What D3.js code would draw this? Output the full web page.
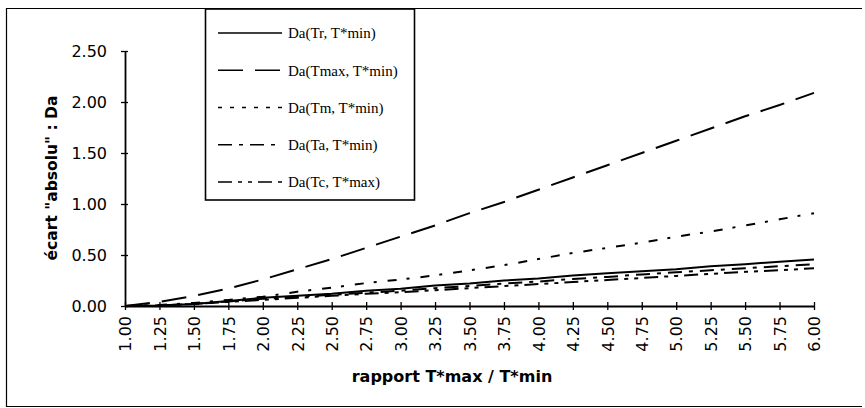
<!DOCTYPE html>
<html>
<head>
<meta charset="utf-8">
<script src="https://cdn.jsdelivr.net/npm/d3@7"></script>
<style>
  body { margin: 0; background: #fff; }
  svg { display: block; }
</style>
</head>
<body>
<svg id="chart"></svg>
<script>
// rapport T*max / T*min
const ratios = [1.00, 1.25, 1.50, 1.75, 2.00, 2.25, 2.50, 2.75, 3.00, 3.25, 3.50,
                3.75, 4.00, 4.25, 4.50, 4.75, 5.00, 5.25, 5.50, 5.75, 6.00];

const daTr   = [0, 0.005, 0.02, 0.05, 0.08, 0.10, 0.12, 0.15, 0.17, 0.20, 0.22,
                0.25, 0.27, 0.30, 0.32, 0.34, 0.36, 0.39, 0.41, 0.435, 0.455];
const daTmax = [0, 0.04, 0.10, 0.17, 0.26, 0.36, 0.46, 0.57, 0.68, 0.79, 0.91,
                1.02, 1.14, 1.26, 1.38, 1.50, 1.62, 1.74, 1.86, 1.97, 2.09];
const daTm   = [0, 0.01, 0.03, 0.06, 0.09, 0.14, 0.18, 0.225, 0.26, 0.30, 0.35,
                0.40, 0.46, 0.52, 0.57, 0.62, 0.68, 0.73, 0.79, 0.85, 0.91];
const daTa   = [0, 0.005, 0.02, 0.045, 0.07, 0.09, 0.11, 0.13, 0.15, 0.175, 0.195,
                0.22, 0.24, 0.265, 0.285, 0.31, 0.33, 0.35, 0.37, 0.39, 0.41];
const daTc   = [0, 0.005, 0.02, 0.04, 0.06, 0.08, 0.10, 0.12, 0.135, 0.155, 0.175,
                0.195, 0.215, 0.235, 0.255, 0.275, 0.295, 0.315, 0.335, 0.35, 0.37];

const seriesNames = ["Da(Tr, T*min)", "Da(Tmax, T*min)", "Da(Tm, T*min)", "Da(Ta, T*min)", "Da(Tc, T*max)"];
const yTicks = [0, 0.5, 1.0, 1.5, 2.0, 2.5];

const width = 865;
const height = 408;

const series = [
  { name: seriesNames[0], values: daTr,   dash: null },
  { name: seriesNames[1], values: daTmax, dash: "25,12" },
  { name: seriesNames[2], values: daTm,   dash: "9,10,3,11", legendDash: "4,8" },
  { name: seriesNames[3], values: daTa,   dash: "14,7,4,7" },
  { name: seriesNames[4], values: daTc,   dash: "14,6,4,6,4,6" }
];

const svg = d3.select("#chart")
              .attr("width", width)
              .attr("height", height);

// outer frame (left, top, bottom edges show in the scan)
svg.append("path")
   .attr("d", "M862,8.5 H6.5 V406.5 H862")
   .attr("fill", "none")
   .attr("stroke", "#000")
   .attr("stroke-width", 1.2);

const x = d3.scaleLinear().domain([1, 6]).range([125, 814]);
const y = d3.scaleLinear().domain([0, 2.5]).range([306, 51]);

const fmt = d3.format(".2f");

const yAxis = svg.append("g")
   .attr("transform", "translate(125,0)")
   .call(d3.axisLeft(y).tickValues(yTicks).tickFormat(fmt).tickSize(4).tickSizeOuter(0).tickPadding(14));
yAxis.selectAll("line").attr("x1", 3).attr("stroke-width", 1.3);
yAxis.select(".domain").attr("stroke-width", 1.8);
yAxis.selectAll("text")
     .attr("font-family", "DejaVu Sans, sans-serif")
     .attr("font-size", 16)
     .attr("fill", "#000");

const xAxis = svg.append("g")
   .attr("transform", "translate(0,306)")
   .call(d3.axisBottom(x).tickValues(ratios).tickFormat(fmt).tickSize(4).tickSizeOuter(0));
xAxis.selectAll("line").attr("y1", -4).attr("stroke-width", 1.3);
xAxis.select(".domain").attr("stroke-width", 1.8);
xAxis.selectAll("text")
     .attr("transform", "rotate(-90)")
     .attr("text-anchor", "end")
     .attr("x", -10)
     .attr("y", 0)
     .attr("dy", "0.36em")
     .attr("font-family", "DejaVu Sans, sans-serif")
     .attr("font-size", 16)
     .attr("fill", "#000");

// axis titles
svg.append("text")
   .attr("transform", "translate(57,178) rotate(-90)")
   .attr("text-anchor", "middle")
   .attr("font-family", "DejaVu Sans, sans-serif")
   .attr("font-weight", "bold")
   .attr("font-size", 15.5)
   .text("écart \"absolu\" : Da");

svg.append("text")
   .attr("x", 452)
   .attr("y", 382)
   .attr("text-anchor", "middle")
   .attr("font-family", "DejaVu Sans, sans-serif")
   .attr("font-weight", "bold")
   .attr("font-size", 16)
   .text("rapport T*max / T*min");

// series
const line = d3.line()
   .x((d, i) => x(ratios[i]))
   .y(d => y(d));

svg.selectAll(".series")
   .data(series)
   .enter()
   .append("path")
   .attr("class", "series")
   .attr("d", d => line(d.values))
   .attr("fill", "none")
   .attr("stroke", "#000")
   .attr("stroke-width", 2)
   .attr("stroke-dasharray", d => d.dash);

// legend
const legend = svg.append("g");
legend.append("rect")
   .attr("x", 205.5).attr("y", 9)
   .attr("width", 209).attr("height", 191)
   .attr("fill", "#fff")
   .attr("stroke", "#000")
   .attr("stroke-width", 1.6);

const legendY = d3.scalePoint().domain(seriesNames).range([33, 182]);

const items = legend.selectAll(".legend-item")
   .data(series)
   .enter()
   .append("g")
   .attr("class", "legend-item")
   .attr("transform", d => `translate(0,${legendY(d.name)})`);

items.append("line")
   .attr("x1", 218).attr("x2", 282)
   .attr("stroke", "#000")
   .attr("stroke-width", 1.6)
   .attr("stroke-dasharray", d => d.legendDash || d.dash);

items.append("text")
   .attr("x", 288)
   .attr("dy", "0.35em")
   .attr("font-family", "Liberation Serif, serif")
   .attr("font-size", 15)
   .text(d => d.name);
</script>
</body>
</html>
